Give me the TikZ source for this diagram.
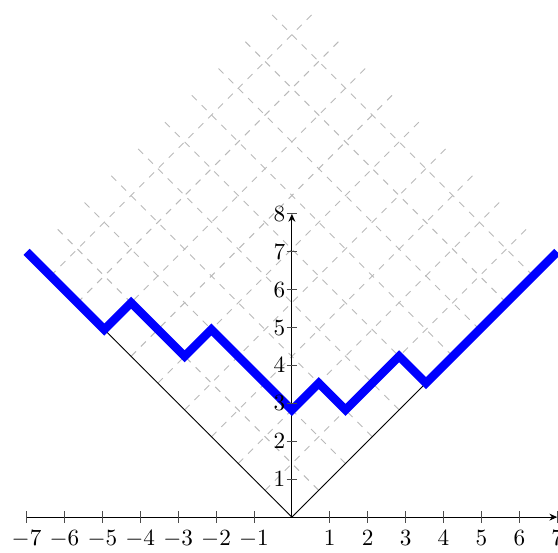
\documentclass[tikz,border=0pt]{standalone}
\usetikzlibrary{arrows.meta}
\begin{document}
\begin{tikzpicture}[x=0.574cm,y=0.574cm,
  gridline/.style={gray!55, dashed, line width=0.4pt},
  axisline/.style={black, line width=0.4pt, -{Stealth[length=3.4pt,width=3pt]}},
  tickmark/.style={black!70, line width=0.4pt},
  diagline/.style={black, line width=0.4pt},
  profile/.style={blue, line width=3.66pt},
  xlab/.style={anchor=north, inner sep=0pt},
  ylab/.style={anchor=east, inner sep=0pt}]
\useasboundingbox (-7.70,-0.923) rectangle (7.02,13.642);
% rotated (Russian convention) coordinates
\begin{scope}[rotate=45]
  \foreach \k in {0,...,9} {
    \draw[gridline] (\k,0) -- (\k,9.9);
    \draw[gridline] (0,\k) -- (9.9,\k);
  }
  \coordinate (O) at (0,0);
  \coordinate (L) at (0,7);
  \coordinate (R) at (5,0);
  \coordinate (P0) at (0,9.9);
  \coordinate (P1) at (0,7);
  \coordinate (P2) at (1,7);
  \coordinate (P3) at (1,5);
  \coordinate (P4) at (2,5);
  \coordinate (P5) at (2,2);
  \coordinate (P6) at (3,2);
  \coordinate (P7) at (3,1);
  \coordinate (P8) at (5,1);
  \coordinate (P9) at (5,0);
  \coordinate (P10) at (9.9,0);
\end{scope}
% axes
\coordinate (XS) at (-7,0);
\coordinate (XE) at (7,0);
\coordinate (YE) at (0,8);
\draw[axisline] (XS) -- (XE);
\draw[axisline] (O) -- (YE);
% diagram borders
\draw[diagline] (O) -- (L);
\draw[diagline] (O) -- (R);
% profile
\draw[profile] (P0) -- (P1) -- (P2) -- (P3) -- (P4) -- (P5) -- (P6) -- (P7) -- (P8) -- (P9) -- (P10);
% ticks and labels
\foreach \i in {-7,-6,-5,-4,-3,-2,-1,1,2,3,4,5,6,7} {
  \coordinate (xt\i) at (\i,0);
  \draw[tickmark] ([yshift=-2.5pt]xt\i) -- ([yshift=2.5pt]xt\i);
  \node[xlab] (xl\i) at ([yshift=-5.6pt]xt\i) {$\i$};
}
\foreach \j in {1,...,8} {
  \coordinate (yt\j) at (0,\j);
  \draw[tickmark] ([xshift=-2.3pt]yt\j) -- ([xshift=2.3pt]yt\j);
  \node[ylab] (yl\j) at ([xshift=-2.7pt]yt\j) {$\j$};
}
\end{tikzpicture}
\end{document}
